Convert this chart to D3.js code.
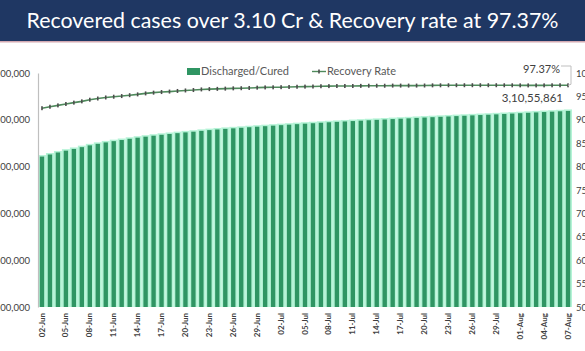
<!DOCTYPE html>
<html>
<head>
<meta charset="utf-8">
<script src="https://cdn.jsdelivr.net/npm/d3@7"></script>
<style>
	body { margin: 0; background: #fff; }
	text { font-family: Lato, "Open Sans", sans-serif; }
</style>
</head>
<body>
<div id="chart"></div>
<script>
// ---------- DATA ----------
const dates = [
	"02-Jun", "03-Jun", "04-Jun", "05-Jun", "06-Jun", "07-Jun", "08-Jun", "09-Jun", "10-Jun", "11-Jun",
	"12-Jun", "13-Jun", "14-Jun", "15-Jun", "16-Jun", "17-Jun", "18-Jun", "19-Jun", "20-Jun", "21-Jun",
	"22-Jun", "23-Jun", "24-Jun", "25-Jun", "26-Jun", "27-Jun", "28-Jun", "29-Jun", "30-Jun",
	"01-Jul", "02-Jul", "03-Jul", "04-Jul", "05-Jul", "06-Jul", "07-Jul", "08-Jul", "09-Jul", "10-Jul",
	"11-Jul", "12-Jul", "13-Jul", "14-Jul", "15-Jul", "16-Jul", "17-Jul", "18-Jul", "19-Jul", "20-Jul",
	"21-Jul", "22-Jul", "23-Jul", "24-Jul", "25-Jul", "26-Jul", "27-Jul", "28-Jul", "29-Jul", "30-Jul",
	"31-Jul", "01-Aug", "02-Aug", "03-Aug", "04-Aug", "05-Aug", "06-Aug", "07-Aug",
];

// cumulative discharged / cured
const cured = [
	26179085, 26401000, 26618000, 26810000, 26994000, 27185000, 27377000, 27540000, 27691000, 27825000,
	27946000, 28078000, 28195000, 28305000, 28408000, 28505000, 28592000, 28681000, 28762000, 28836000,
	28924000, 29005000, 29073000, 29137000, 29195000, 29253000, 29314000, 29372000, 29424000,
	29481000, 29535000, 29587000, 29641000, 29692000, 29740000, 29793000, 29843000, 29886000, 29930000,
	29972000, 30014000, 30058000, 30099000, 30139000, 30183000, 30225000, 30265000, 30307000, 30348000,
	30386000, 30426000, 30465000, 30501000, 30539000, 30579000, 30615000, 30649000, 30689000, 30730000,
	30772000, 30812000, 30853000, 30895000, 30935000, 30975000, 31016000, 31055861,
];

// recovery rate (%)
const recoveryRate = [
	92.48, 92.79, 93.08, 93.38, 93.67, 93.94, 94.29, 94.55, 94.77, 94.93,
	95.07, 95.26, 95.43, 95.64, 95.80, 95.93, 96.03, 96.16, 96.27, 96.36,
	96.49, 96.56, 96.61, 96.66, 96.72, 96.75, 96.80, 96.87, 96.92,
	96.94, 96.97, 97.01, 97.06, 97.09, 97.11, 97.17, 97.20, 97.22, 97.22,
	97.22, 97.25, 97.28, 97.28, 97.28, 97.31, 97.31, 97.31, 97.31, 97.33,
	97.36, 97.37, 97.38, 97.39, 97.39, 97.39, 97.39, 97.39, 97.39, 97.38,
	97.37, 97.36, 97.35, 97.35, 97.36, 97.37, 97.38, 97.37,
];

const leftTicks = [10000000, 15000000, 20000000, 25000000, 30000000, 35000000];
const rightTicks = [50, 55, 60, 65, 70, 75, 80, 85, 90, 95, 100];

const title = "Recovered cases over 3.10 Cr & Recovery rate at 97.37%";
const lastCuredLabel = "3,10,55,861";
const lastRateLabel = "97.37%";

// ---------- CHART ----------
const width = 585;
const height = 351;
const margin = { top: 73, right: 13, bottom: 44, left: 38 };

const svg = d3
	.select("#chart")
	.append("svg")
	.attr("width", width)
	.attr("height", height);

// title banner
svg.append("rect")
	.attr("width", width)
	.attr("height", 41)
	.attr("fill", "#1f3763");
svg.append("rect")
	.attr("y", 41)
	.attr("width", width)
	.attr("height", 1.5)
	.attr("fill", "#d3a9b2");
svg.append("text")
	.attr("x", width / 2)
	.attr("y", 28)
	.attr("text-anchor", "middle")
	.attr("fill", "#ffffff")
	.attr("font-size", 21)
	.attr("textLength", 532)
	.attr("lengthAdjust", "spacingAndGlyphs")
	.text(title);

const xScale = d3
	.scaleBand()
	.domain(dates)
	.range([margin.left, width - margin.right])
	.padding(0);

const yLeft = d3
	.scaleLinear()
	.domain([10000000, 35000000])
	.range([height - margin.bottom, margin.top]);

const yRight = d3
	.scaleLinear()
	.domain([50, 100])
	.range([height - margin.bottom, margin.top]);

// Indian digit grouping: 3,10,55,861
function indianFormat(n) {
	let s = String(Math.round(n));
	let last3 = s.slice(-3);
	let rest = s.slice(0, -3);
	if (rest.length) {
		rest = rest.replace(/\B(?=(\d{2})+(?!\d))/g, ",");
		return rest + "," + last3;
	}
	return last3;
}

const rows = dates.map((d, i) => ({ date: d, cured: cured[i], rate: recoveryRate[i] }));

// bars: mint border + dark green fill
const barsG = svg.append("g").classed("bars", true);
barsG.selectAll(".bar-bg")
	.data(rows)
	.enter()
	.append("rect")
	.attr("x", (d) => xScale(d.date))
	.attr("y", (d) => yLeft(d.cured) - 0.5)
	.attr("width", xScale.bandwidth())
	.attr("height", (d) => yLeft(10000000) - yLeft(d.cured) + 0.5)
	.attr("fill", "#b4f3d6");
barsG.selectAll(".bar")
	.data(rows)
	.enter()
	.append("rect")
	.attr("x", (d) => xScale(d.date) + 1.8)
	.attr("y", (d) => yLeft(d.cured) + 1)
	.attr("width", xScale.bandwidth() - 3.6)
	.attr("height", (d) => yLeft(10000000) - yLeft(d.cured) - 1)
	.attr("fill", "#2f9563");

// left axis
const leftAxis = svg.append("g")
	.attr("transform", `translate(${margin.left}, 0)`)
	.call(d3.axisLeft(yLeft).tickValues(leftTicks).tickSize(0).tickPadding(8).tickFormat(indianFormat));
leftAxis.select(".domain").attr("stroke", "#bfbfbf").attr("stroke-width", 1.2);
leftAxis.selectAll("text").attr("font-size", 9.5).attr("fill", "#404040");

// right axis (labels only)
const rightAxis = svg.append("g")
	.attr("transform", `translate(${width - margin.right - 6}, 0)`)
	.call(d3.axisRight(yRight).tickValues(rightTicks).tickSize(0).tickPadding(10).tickFormat((d) => d.toFixed(2) + "%"));
rightAxis.select(".domain").remove();
rightAxis.selectAll("text").attr("font-size", 9.5).attr("fill", "#404040");

// bottom axis labels, every 3rd day
const bottomAxis = svg.append("g")
	.attr("transform", `translate(0, ${height - margin.bottom})`)
	.call(
		d3.axisBottom(xScale)
			.tickValues(dates.filter((d, i) => i % 3 === 0))
			.tickSize(0)
	);
bottomAxis.select(".domain").remove();
bottomAxis.selectAll("text")
	.attr("font-size", 8)
	.attr("font-weight", "bold")
	.attr("fill", "#404040")
	.attr("transform", "rotate(-90)")
	.attr("text-anchor", "end")
	.attr("x", -6)
	.attr("y", 0)
	.attr("dy", "0.32em");

// recovery rate line
const line = d3.line()
	.x((d) => xScale(d.date) + xScale.bandwidth() / 2)
	.y((d) => yRight(d.rate));

svg.append("path")
	.datum(rows)
	.attr("d", line)
	.attr("fill", "none")
	.attr("stroke", "#4f8a5c")
	.attr("stroke-width", 1.6);

svg.append("g")
	.selectAll("rect")
	.data(rows)
	.enter()
	.append("rect")
	.attr("x", (d) => xScale(d.date) + xScale.bandwidth() / 2 - 0.8)
	.attr("y", (d) => yRight(d.rate) - 2)
	.attr("width", 1.6)
	.attr("height", 4)
	.attr("fill", "#4d4d4d");

// legend
const legendG = svg.append("g").classed("legend", true);
legendG.append("rect")
	.attr("x", 187)
	.attr("y", 68)
	.attr("width", 13)
	.attr("height", 7)
	.attr("fill", "#2f9563");
legendG.append("text")
	.attr("x", 201)
	.attr("y", 75)
	.attr("font-size", 11)
	.attr("fill", "#595959")
	.text("Discharged/Cured");
legendG.append("line")
	.attr("x1", 312).attr("x2", 326)
	.attr("y1", 71.5).attr("y2", 71.5)
	.attr("stroke", "#4f8a5c")
	.attr("stroke-width", 1.4);
legendG.append("rect")
	.attr("x", 318.2).attr("y", 69.5)
	.attr("width", 1.6).attr("height", 4)
	.attr("fill", "#4d4d4d");
legendG.append("text")
	.attr("x", 327)
	.attr("y", 75)
	.attr("font-size", 11)
	.attr("fill", "#595959")
	.text("Recovery Rate");

// annotations for the last day
const last = rows[rows.length - 1];
const lastX = xScale(last.date) + xScale.bandwidth() / 2;
svg.append("polyline")
	.attr("points", `${lastX - 7},66 ${lastX + 3},66 ${lastX + 3},${yRight(last.rate) - 1} ${lastX},${yRight(last.rate)}`)
	.attr("fill", "none")
	.attr("stroke", "#bfbfbf")
	.attr("stroke-width", 1);
svg.append("text")
	.attr("x", lastX - 8)
	.attr("y", 73)
	.attr("text-anchor", "end")
	.attr("font-size", 11)
	.attr("fill", "#404040")
	.text(lastRateLabel);
svg.append("text")
	.attr("x", lastX - 5)
	.attr("y", 102)
	.attr("text-anchor", "end")
	.attr("font-size", 11.5)
	.attr("fill", "#404040")
	.text(lastCuredLabel);
</script>
</body>
</html>
